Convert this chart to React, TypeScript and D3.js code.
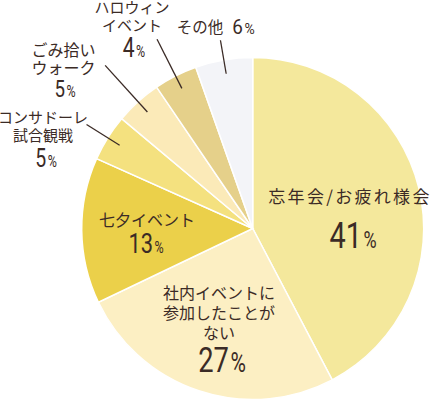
import React from "react";
import * as d3 from "d3";

// Slice values (angles), and their printed labels
const categories = [
  "忘年会/お疲れ様会",
  "社内イベントに参加したことがない",
  "七夕イベント",
  "コンサドーレ試合観戦",
  "ごみ拾いウォーク",
  "ハロウィンイベント",
  "その他",
];
const values = [42.3, 25.6, 13.8, 4.4, 4.4, 4.1, 5.4];
const labelLines = [
  ["忘年会/お疲れ様会"],
  ["社内イベントに", "参加したことが", "ない"],
  ["七夕イベント"],
  ["コンサドーレ", "試合観戦"],
  ["ごみ拾い", "ウォーク"],
  ["ハロウィン", "イベント"],
  ["その他"],
];
const pctLabels = ["41", "27", "13", "5", "5", "4", "6"];
const colors = ["#f4e89c", "#fcefc3", "#ebd04a", "#f4e17f", "#fbeab8", "#e5d08a", "#f3f4f8"];

const W = 432;
const H = 399;
const cx = 252.7;
const cy = 228.5;
const R = 171;
const textColor = "#3b2b26";
const jp = "'Noto Sans CJK JP', 'Noto Sans', sans-serif";
const num = "Roboto, 'Liberation Sans', sans-serif";

// layout of annotations (absolute positions for text, leader radii)
type Lay = {
  x: number; ys: number[]; fs: number; ls: number;
  px: number; py: number; nfs: number; pfs: number; sx?: number;
  leaderOuter?: number;
};
const layout: Lay[] = [
  { x: 350, ys: [203], fs: 17, ls: 2.3, px: 353, py: 248, nfs: 37, pfs: 23 },
  { x: 219, ys: [299, 319, 339], fs: 16, ls: 0, px: 222, py: 371.5, nfs: 35, pfs: 27 },
  { x: 147, ys: [226], fs: 16, ls: 0, px: 146, py: 253, nfs: 28, pfs: 16 },
  { x: 43, ys: [122.5, 140.5], fs: 15, ls: 0, px: 46, py: 166.5, nfs: 25, pfs: 16, leaderOuter: 196 },
  { x: 63.5, ys: [55.5, 74], fs: 16, ls: 0, px: 65, py: 96.5, nfs: 24, pfs: 16, leaderOuter: 220 },
  { x: 132, ys: [13, 31], fs: 15, ls: 0, px: 134, py: 56.8, nfs: 27, pfs: 16, leaderOuter: 212 },
  { x: 200, ys: [32.5], fs: 15.5, ls: 0, px: 243.5, py: 34, nfs: 21, pfs: 15.5, sx: 0.9, leaderOuter: 191 },
];

function Pct({ x, y, n, nfs, pfs, sx }: { x: number; y: number; n: string; nfs: number; pfs: number; sx: number }) {
  return (
    <text
      transform={`translate(${x},${y}) scale(${sx},1)`}
      textAnchor="middle"
      fill={textColor}
      fontFamily={num}
    >
      <tspan fontSize={nfs}>{n}</tspan>
      <tspan fontSize={pfs} dx={2}>%</tspan>
    </text>
  );
}

export default function App() {
  const pie = d3
    .pie<number>()
    .sort(null)
    .value((d) => d)
    .startAngle(0)
    .endAngle(2 * Math.PI);
  const arcs = pie(values);
  const arc = d3.arc<d3.PieArcDatum<number>>().innerRadius(0).outerRadius(R);

  return (
    <svg
      width={W}
      height={H}
      style={{ position: "absolute", left: 0, top: 0, background: "#fff" }}
    >
      <g transform={`translate(${cx},${cy})`}>
        {arcs.map((a, i) => (
          <path key={categories[i]} d={arc(a) || ""} fill={colors[i]} stroke="#fff" strokeWidth={1.5} />
        ))}
        {arcs.map((a, i) => {
          const L = layout[i];
          if (!L.leaderOuter) return null;
          const mid = (a.startAngle + a.endAngle) / 2;
          const r0 = 157;
          const r1 = L.leaderOuter;
          return (
            <line
              key={"l" + i}
              x1={Math.sin(mid) * r0}
              y1={-Math.cos(mid) * r0}
              x2={Math.sin(mid) * r1}
              y2={-Math.cos(mid) * r1}
              stroke={textColor}
              strokeWidth={1.3}
            />
          );
        })}
      </g>
      {labelLines.map((lines, i) => {
        const L = layout[i];
        return (
          <g key={"t" + i}>
            {lines.map((s, j) => (
              <text
                key={j}
                x={L.x}
                y={L.ys[j]}
                textAnchor="middle"
                fontFamily={jp}
                fontSize={L.fs}
                letterSpacing={L.ls}
                fill={textColor}
              >
                {s}
              </text>
            ))}
            <Pct x={L.px} y={L.py} n={pctLabels[i]} nfs={L.nfs} pfs={L.pfs} sx={L.sx ?? 0.78} />
          </g>
        );
      })}
    </svg>
  );
}
